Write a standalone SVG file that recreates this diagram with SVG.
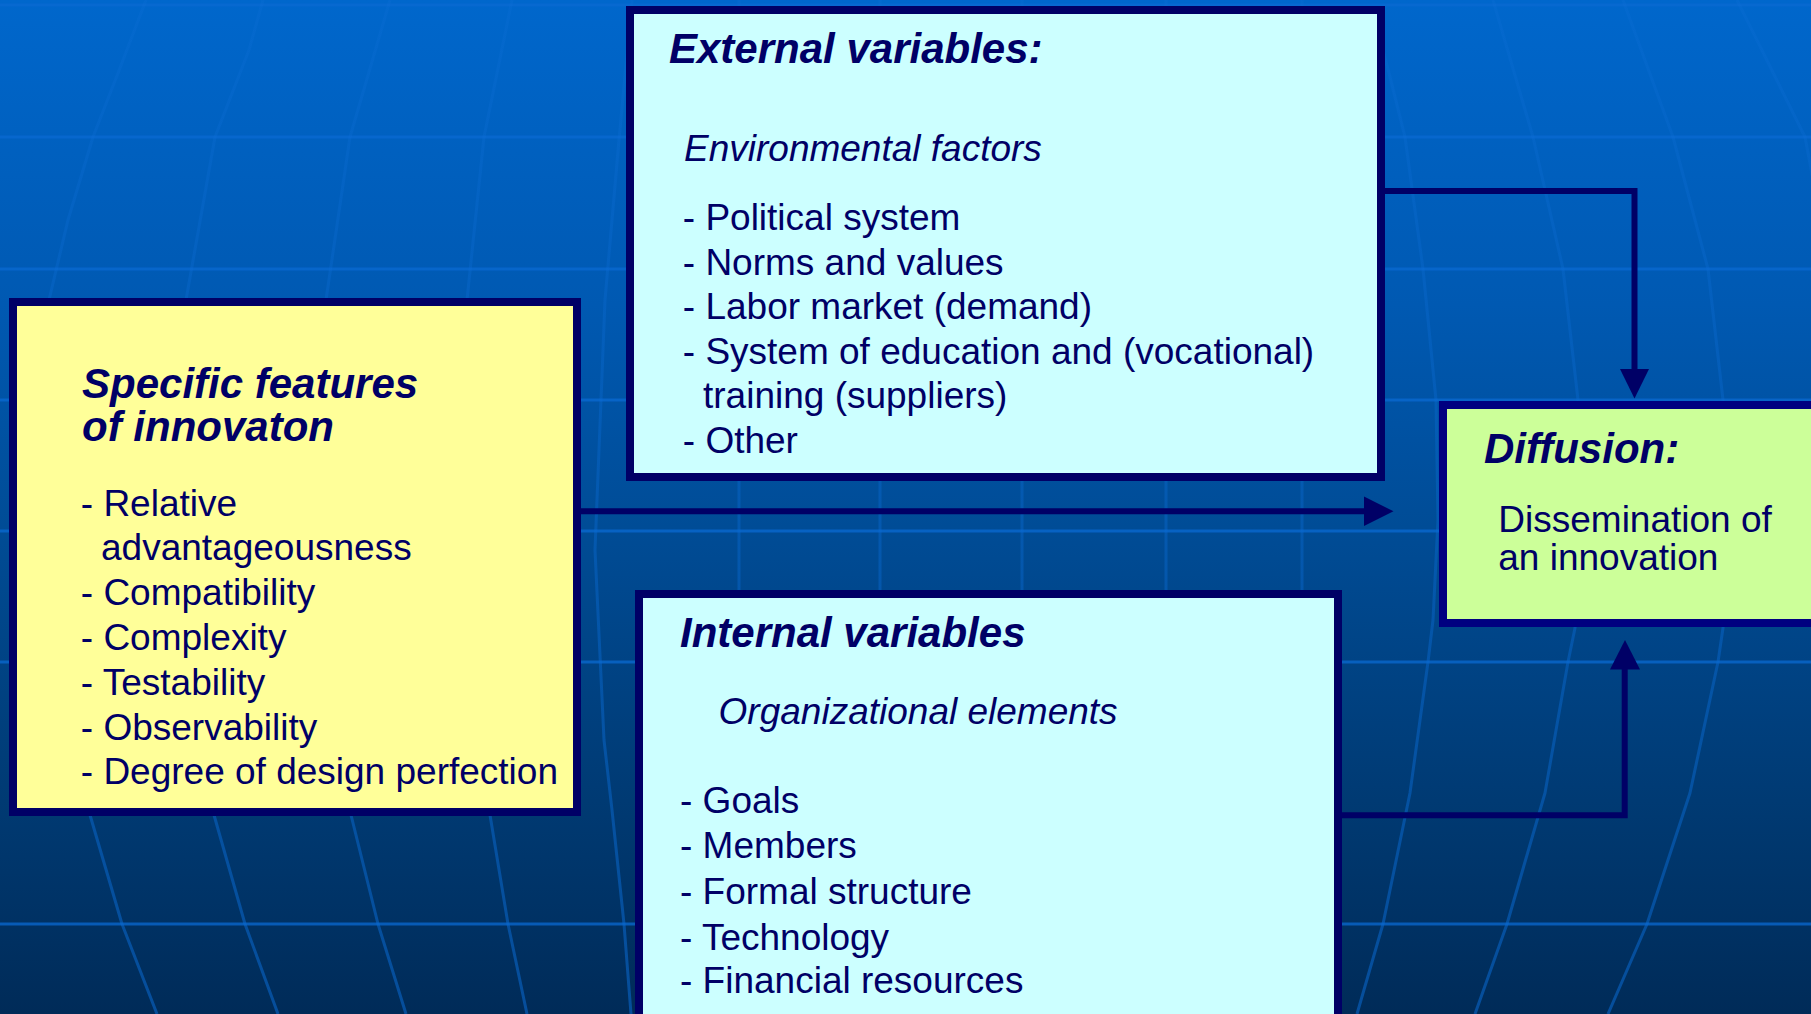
<svg xmlns="http://www.w3.org/2000/svg" width="1811" height="1014" viewBox="0 0 1811 1014">
<defs>
<linearGradient id="bg" x1="0" y1="0" x2="0" y2="1">
<stop offset="0" stop-color="#0067cc"/>
<stop offset="0.3" stop-color="#0059b2"/>
<stop offset="0.52" stop-color="#004c96"/>
<stop offset="0.79" stop-color="#003a73"/>
<stop offset="1" stop-color="#002b58"/>
</linearGradient>
<linearGradient id="mgrad" gradientUnits="userSpaceOnUse" x1="0" y1="0" x2="0" y2="1014">
<stop offset="0" stop-color="#1070d8" stop-opacity="0.22"/>
<stop offset="0.5" stop-color="#0a6ad2" stop-opacity="0.4"/>
<stop offset="1" stop-color="#0a6ad2" stop-opacity="0.55"/>
</linearGradient>
<style>
.hg{stroke:#0a6ad2;stroke-width:3;opacity:0.75;fill:none}
.mg{stroke:url(#mgrad);stroke-width:3;fill:none;stroke-linejoin:round}
.box{stroke:#000066;stroke-width:8}
.ext{fill:#ccffff}
.yel{fill:#ffff99}
.dif{fill:#ccff99;stroke:#000080}
.t{font-family:"Liberation Sans",Arial,sans-serif;fill:#000066;font-size:37px}
.h{font-weight:bold;font-style:italic;font-size:42px}
.i{font-style:italic}
.con{stroke:#000066;stroke-width:6;fill:none}
.head{fill:#000066}
</style>
</defs>
<g id="background">
<rect x="0" y="0" width="1811" height="1014" fill="url(#bg)"/>
<line class="hg" x1="0" y1="5" x2="1811" y2="5"/>
<line class="hg" x1="0" y1="137" x2="1811" y2="137"/>
<line class="hg" x1="0" y1="269" x2="1811" y2="269"/>
<line class="hg" x1="0" y1="400" x2="1811" y2="400"/>
<line class="hg" x1="0" y1="531" x2="1811" y2="531"/>
<line class="hg" x1="0" y1="662" x2="1811" y2="662"/>
<line class="hg" x1="0" y1="924" x2="1811" y2="924"/>
<polyline class="mg" points="146,0 120,68 93,137 68,220 49,300 38,420 40,550 55,680 90,815 122,924 157,1014"/>
<polyline class="mg" points="263,0 249,50 215,137 186,300 180,550 190,700 214,815 245,924 278,1014"/>
<polyline class="mg" points="390,0 350,137 326,300 322,550 335,720 351,815 378,924 406,1014"/>
<polyline class="mg" points="512,0 484,137 467,300 465,550 478,740 490,815 508,924 527,1014"/>
<polyline class="mg" points="632,0 619,140 605,300 595,550 604,740 612,810 624,924 631,1014"/>
<line class="mg" x1="739" y1="0" x2="739.01" y2="1014"/>
<line class="mg" x1="880" y1="0" x2="880.01" y2="1014"/>
<line class="mg" x1="1022" y1="0" x2="1022.01" y2="1014"/>
<line class="mg" x1="1166" y1="0" x2="1166.01" y2="1014"/>
<line class="mg" x1="1302" y1="0" x2="1302.01" y2="1014"/>
<polyline class="mg" points="1375,20 1390,77 1405,137 1423,269 1436,400 1438,520 1433,620 1428,662 1410,793 1383,924 1357,1014"/>
<polyline class="mg" points="1493,0 1533,137 1563,269 1578,400 1579,520 1575,628 1568,662 1545,793 1507,924 1475,1014"/>
<polyline class="mg" points="1623,0 1673,137 1708,269 1723,400 1725,520 1723,628 1718,662 1690,793 1647,924 1608,1014"/>
<polyline class="mg" points="1737,0 1805,137 1830,269"/>
</g>
<g id="connectors">
<polyline class="con" points="1385,191 1634.5,191 1634.5,372"/>
<polygon class="head" points="1620,369 1649,369 1634.5,398.5"/>
<line class="con" x1="581" y1="511.3" x2="1366" y2="511.3"/>
<polygon class="head" points="1364,496.5 1364,526 1393.5,511.3"/>
<polyline class="con" points="1342,815.3 1624.7,815.3 1624.7,667"/>
<polygon class="head" points="1610,669.5 1640,669.5 1625,640"/>
</g>
<g id="external">
<rect class="box ext" x="630" y="10" width="751" height="467"/>
<text class="t h" x="669" y="62.7">External variables:</text>
<text class="t i" x="684" y="160.7">Environmental factors</text>
<text class="t" x="682.8" y="230">- Political system</text>
<text class="t" x="682.8" y="274.5">- Norms and values</text>
<text class="t" x="682.8" y="319">- Labor market (demand)</text>
<text class="t" x="682.8" y="363.5">- System of education and (vocational)</text>
<text class="t" x="703" y="408">training (suppliers)</text>
<text class="t" x="682.8" y="452.5">- Other</text>
</g>
<g id="features">
<rect class="box yel" x="13" y="302" width="564" height="510"/>
<text class="t h" x="82" y="397.7">Specific features</text>
<text class="t h" x="82" y="441">of innovaton</text>
<text class="t" x="80.8" y="515.5">- Relative</text>
<text class="t" x="101" y="560.3">advantageousness</text>
<text class="t" x="80.8" y="605.3">- Compatibility</text>
<text class="t" x="80.8" y="650.3">- Complexity</text>
<text class="t" x="80.8" y="695.3">- Testability</text>
<text class="t" x="80.8" y="740.3">- Observability</text>
<text class="t" x="80.8" y="784.3">- Degree of design perfection</text>
</g>
<g id="internal">
<rect class="box ext" x="639" y="594" width="699" height="500"/>
<text class="t h" x="680" y="647">Internal variables</text>
<text class="t i" x="718.6" y="723.7">Organizational elements</text>
<text class="t" x="680" y="813">- Goals</text>
<text class="t" x="680" y="858">- Members</text>
<text class="t" x="680" y="904">- Formal structure</text>
<text class="t" x="680" y="949.5">- Technology</text>
<text class="t" x="680" y="993">- Financial resources</text>
</g>
<g id="diffusion">
<rect class="box dif" x="1443" y="405" width="500" height="218"/>
<text class="t h" x="1484" y="463.3">Diffusion:</text>
<text class="t" x="1498.3" y="531.7">Dissemination of</text>
<text class="t" x="1498.3" y="570">an innovation</text>
</g>
</svg>
